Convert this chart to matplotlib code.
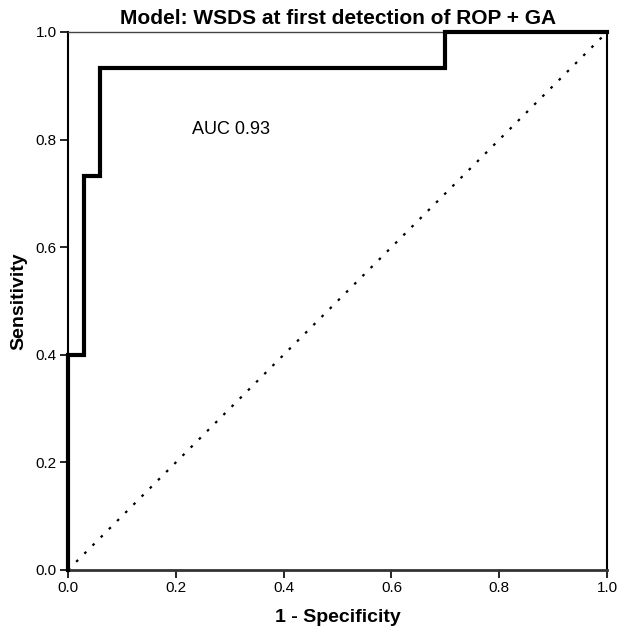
import matplotlib
matplotlib.use("Agg")
import matplotlib.pyplot as plt

plt.rcParams['font.family'] = ['Liberation Sans', 'DejaVu Sans']

fpr = [0.0, 0.0, 0.03, 0.03, 0.06, 0.06, 0.70, 0.70, 1.0]
tpr = [0.0, 0.40, 0.40, 0.733, 0.733, 0.933, 0.933, 1.0, 1.0]
ticks = [0.0, 0.2, 0.4, 0.6, 0.8, 1.0]
tick_labels = ["0.0", "0.2", "0.4", "0.6", "0.8", "1.0"]
auc_text = "AUC 0.93"
title = "Model: WSDS at first detection of ROP + GA"

fig = plt.figure(figsize=(6.24, 6.39), dpi=100)
ax = fig.add_axes([0.109, 0.108, 0.864, 0.842])

ax.plot([0, 1], [0, 1], linestyle=(0, (1.2, 4)), color='black', linewidth=1.6, zorder=2)
ax.plot(fpr, tpr, color='black', linewidth=3, solid_joinstyle='miter', zorder=3, clip_on=False)

ax.set_xlim(0, 1)
ax.set_ylim(0, 1)
ax.set_xticks(ticks)
ax.set_yticks(ticks)
ax.set_xticklabels(tick_labels)
ax.set_yticklabels(tick_labels)
ax.tick_params(direction='out', length=6, width=1.2, labelsize=11, pad=2)

for s in ['top']:
    ax.spines[s].set_linewidth(1.0)
    ax.spines[s].set_color('#444444')
ax.spines['left'].set_linewidth(1.5)
ax.spines['right'].set_linewidth(1.5)
ax.spines['bottom'].set_linewidth(2.0)
ax.spines['bottom'].set_color('#333333')

ax.text(0.23, 0.818, auc_text, fontsize=13, ha='left', va='center')
ax.set_title(title, fontsize=15, fontweight='bold', pad=6)
ax.set_xlabel("1 - Specificity", fontsize=14, fontweight='bold', labelpad=10)
ax.set_ylabel("Sensitivity", fontsize=14, fontweight='bold', labelpad=6)

fig.savefig("out.png", dpi=100)
